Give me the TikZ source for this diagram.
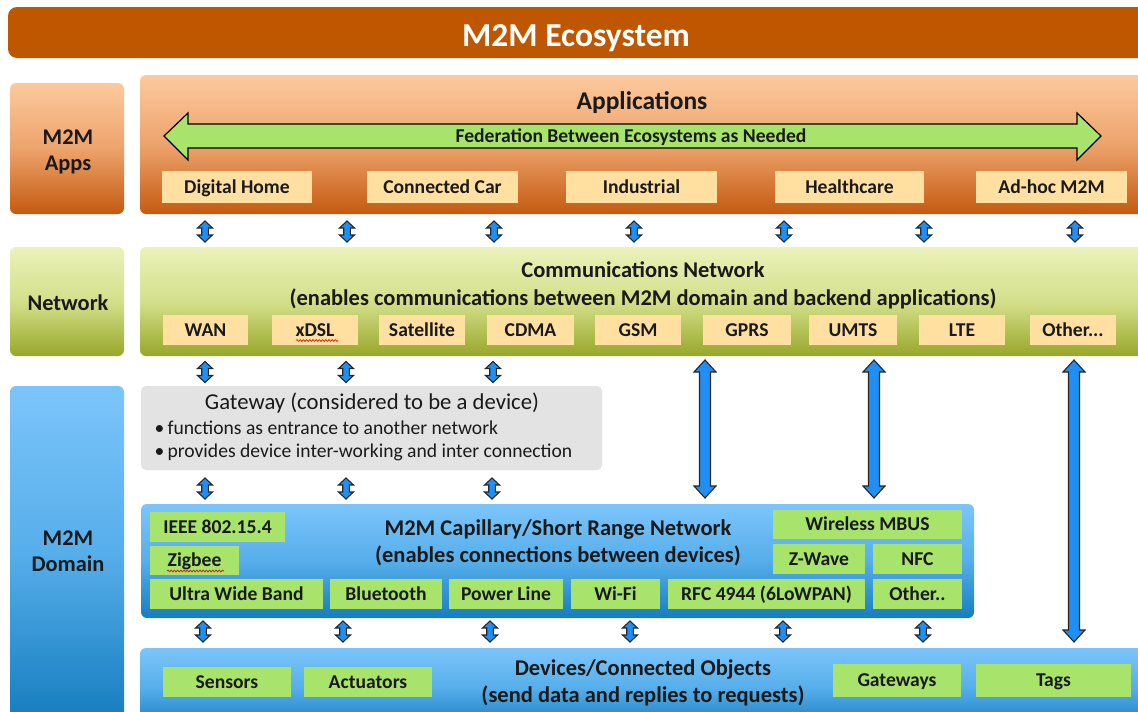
\documentclass[tikz,border=0pt]{standalone}
\usepackage{fontspec}
\setmainfont{Carlito}
\usetikzlibrary{decorations.pathmorphing}
\definecolor{titleor}{HTML}{BF5600}
\definecolor{ortop}{HTML}{FCCA9E}
\definecolor{ormid}{HTML}{EDA36C}
\definecolor{orbot}{HTML}{C45A10}
\definecolor{gntop}{HTML}{EBF2BB}
\definecolor{gnmid}{HTML}{D3E08A}
\definecolor{gnbot}{HTML}{98A72A}
\definecolor{bltop}{HTML}{7CC5FB}
\definecolor{blmid}{HTML}{56AEEA}
\definecolor{blbot}{HTML}{167DBF}
\definecolor{peach}{HTML}{FFE0A0}
\definecolor{grn}{HTML}{A8E36B}
\definecolor{gray}{HTML}{E3E3E3}
\definecolor{arrblue}{HTML}{1E90F5}
\definecolor{txt}{HTML}{1A1A1A}
\newcommand\vdarr[6]{%
 \draw[barrow] ({#1},{#2}) -- ({#1+#5},{#2+#6}) -- ({#1+#4},{#2+#6}) -- ({#1+#4},{#3-#6}) -- ({#1+#5},{#3-#6}) -- ({#1},{#3}) -- ({#1-#5},{#3-#6}) -- ({#1-#4},{#3-#6}) -- ({#1-#4},{#2+#6}) -- ({#1-#5},{#2+#6}) -- cycle;}
\newcommand\sarr[2]{\vdarr{#1}{#2-10.5}{#2+10.5}{3.3}{7.5}{7}}
\begin{document}
\begin{tikzpicture}[x=1pt,y=-1pt,
  box/.style={inner sep=0pt, outer sep=0pt, font=\bfseries\fontsize{19.6}{22}\selectfont, text=txt, text height=15.7pt, text depth=3.1pt},
  pb/.style={box, fill=peach},
  gb/.style={box, fill=grn},
  orsh/.style={rounded corners=6pt, top color=ortop, bottom color=orbot, middle color=ormid, inner sep=0pt},
  gnsh/.style={rounded corners=6pt, top color=gntop, bottom color=gnbot, middle color=gnmid, inner sep=0pt},
  blsh/.style={rounded corners=6pt, top color=bltop, bottom color=blbot, middle color=blmid, inner sep=0pt},
  lbl/.style={font=\bfseries\fontsize{22.4}{26.5}\selectfont, text=txt, align=center},
  head/.style={font=\bfseries\fontsize{22.5}{27.5}\selectfont, text=txt, align=center},
  barrow/.style={fill=arrblue, draw=black!85, line width=1.1pt, line join=miter},
  wavy/.style={draw=red!85!black, line width=0.6pt, decorate, decoration={snake, amplitude=0.9pt, segment length=3.2pt}}
]
\useasboundingbox (0,0) rectangle (1138,712);
\fill[white] (0,0) rectangle (1138,712);
% title
\node[fill=titleor, rounded corners=9pt, minimum width=1144pt, minimum height=51pt, inner sep=0pt] (title) at (580,32.5) {};
\node[font=\bfseries\fontsize{33.5}{38}\selectfont, text=white] (titletxt) at (576,38) {M2M Ecosystem};
% left labels
\node[orsh, minimum width=114pt, minimum height=131pt] (appslbl) at (67,148.5) {};
\node[lbl] (appslbltxt) at (68,152) {M2M\\Apps};
\node[gnsh, minimum width=114pt, minimum height=109pt] (netlbl) at (67,301.5) {};
\node[lbl] (netlbltxt) at (68,303) {Network};
\node[blsh, minimum width=114pt, minimum height=334pt] (domlbl) at (67,553) {};
\node[lbl] (domlbltxt) at (68,551) {M2M\\Domain};
% applications
\node[orsh, minimum width=1016pt, minimum height=139pt] (apps) at (648,144.5) {};
\node[font=\bfseries\fontsize{25.5}{30}\selectfont, text=txt] (appstitle) at (642,102.5) {Applications};
\draw[fill=grn, draw=black, line width=1.2pt, line join=miter]
  (164,136) -- (188,113) -- (188,124) -- (1077,124) -- (1077,113) -- (1101,136)
  -- (1077,160) -- (1077,148) -- (188,148) -- (188,160) -- cycle;
\node[font=\bfseries\fontsize{19.6}{22}\selectfont, text=txt, text height=15.7pt, text depth=3.1pt, inner sep=0pt] (fed) at (631,136) {Federation Between Ecosystems as Needed};
\node[pb, minimum width=150pt, minimum height=32pt] (dh) at (237,187) {Digital Home};
\node[pb, minimum width=151pt, minimum height=32pt] (cc) at (442.5,187) {Connected Car};
\node[pb, minimum width=151pt, minimum height=32pt] (ind) at (641.5,187) {Industrial};
\node[pb, minimum width=149pt, minimum height=32pt] (hc) at (849.5,187) {Healthcare};
\node[pb, minimum width=151pt, minimum height=32pt] (adhoc) at (1051.5,187) {Ad-hoc M2M};
% network
\node[gnsh, minimum width=1016pt, minimum height=109pt] (net) at (648,301.5) {};
\node[head] (nettitle) at (643,285.5) {Communications Network\\(enables communications between M2M domain and backend applications)};
\node[pb, minimum width=85pt, minimum height=30pt] (wan) at (205.5,330) {WAN};
\node[pb, minimum width=86pt, minimum height=30pt] (xdsl) at (315,330) {xDSL};
\node[pb, minimum width=86pt, minimum height=30pt] (sat) at (422,330) {Satellite};
\node[pb, minimum width=87pt, minimum height=30pt] (cdma) at (530.5,330) {CDMA};
\node[pb, minimum width=86pt, minimum height=30pt] (gsm) at (638,330) {GSM};
\node[pb, minimum width=88pt, minimum height=30pt] (gprs) at (747,330) {GPRS};
\node[pb, minimum width=88pt, minimum height=30pt] (umts) at (853,330) {UMTS};
\node[pb, minimum width=86pt, minimum height=30pt] (lte) at (962,330) {LTE};
\node[pb, minimum width=86pt, minimum height=30pt] (othn) at (1073,330) {Other...};
\draw[wavy] (296,340.5) -- (338,340.5);
% gateway
\node[fill=gray, rounded corners=5pt, minimum width=461pt, minimum height=84pt, inner sep=0pt] (gw) at (371.5,428) {};
\node[font=\fontsize{22.7}{26}\selectfont, text=txt] (gwtitle) at (372,403.5) {Gateway (considered to be a device)};
\node[font=\fontsize{19.6}{22}\selectfont, text=txt, anchor=west] (gwb1) at (151,427.5) {\textbullet\,functions as entrance to another network};
\node[font=\fontsize{19.6}{22}\selectfont, text=txt, anchor=west] (gwb2) at (151,452.5) {\textbullet\,provides device inter-working and inter connection};
% capillary
\node[blsh, minimum width=833pt, minimum height=114pt] (cap) at (557.5,561) {};
\node[head] (captitle) at (558,543) {M2M Capillary/Short Range Network\\(enables connections between devices)};
\node[gb, minimum width=135pt, minimum height=30pt] (ieee) at (217.5,527) {IEEE 802.15.4};
\node[gb, minimum width=89pt, minimum height=29pt] (zig) at (194.5,560.5) {Zigbee};
\node[gb, minimum width=173pt, minimum height=30pt] (uwb) at (236.5,594) {Ultra Wide Band};
\node[gb, minimum width=112pt, minimum height=30pt] (bt) at (386,594) {Bluetooth};
\node[gb, minimum width=114pt, minimum height=30pt] (pl) at (506,594) {Power Line};
\node[gb, minimum width=89pt, minimum height=30pt] (wifi) at (615.5,594) {Wi-Fi};
\node[gb, minimum width=197pt, minimum height=30pt] (rfc) at (766.5,594) {RFC 4944 (6LoWPAN)};
\node[gb, minimum width=89pt, minimum height=30pt] (othc) at (917.5,594) {Other..};
\node[gb, minimum width=189pt, minimum height=29pt] (mbus) at (867.5,524.5) {Wireless MBUS};
\node[gb, minimum width=92pt, minimum height=30pt] (zw) at (819,559) {Z-Wave};
\node[gb, minimum width=89pt, minimum height=30pt] (nfc) at (917.5,559) {NFC};
\draw[wavy] (167,571) -- (224,571);
% devices
\node[blsh, minimum width=1016pt, minimum height=80pt] (dev) at (648,688) {};
\node[head] (devtitle) at (643,683) {Devices/Connected Objects\\(send data and replies to requests)};
\node[gb, minimum width=128pt, minimum height=30pt] (sens) at (227,682) {Sensors};
\node[gb, minimum width=128pt, minimum height=30pt] (act) at (368,682) {Actuators};
\node[gb, minimum width=128pt, minimum height=33pt] (gws) at (897,680.5) {Gateways};
\node[gb, minimum width=155pt, minimum height=33pt] (tags) at (1053.5,680.5) {Tags};
% small arrows apps <-> network
\foreach \x in {205,347,494,634,784,924,1075} {\sarr{\x}{231.5}}
% network <-> gateway
\foreach \x in {205,346,493} {\sarr{\x}{372}}
% gateway <-> capillary
\foreach \x in {205,346,492} {\sarr{\x}{488.5}}
% capillary <-> devices
\foreach \x in {203,343,490,630,783,923} {\sarr{\x}{631.5}}
% long arrows
\vdarr{705}{360}{498}{5.5}{11}{12}
\vdarr{874}{360}{498}{5.5}{11}{12}
\vdarr{1074}{360}{642}{5.5}{11}{12}
\end{tikzpicture}
\end{document}
